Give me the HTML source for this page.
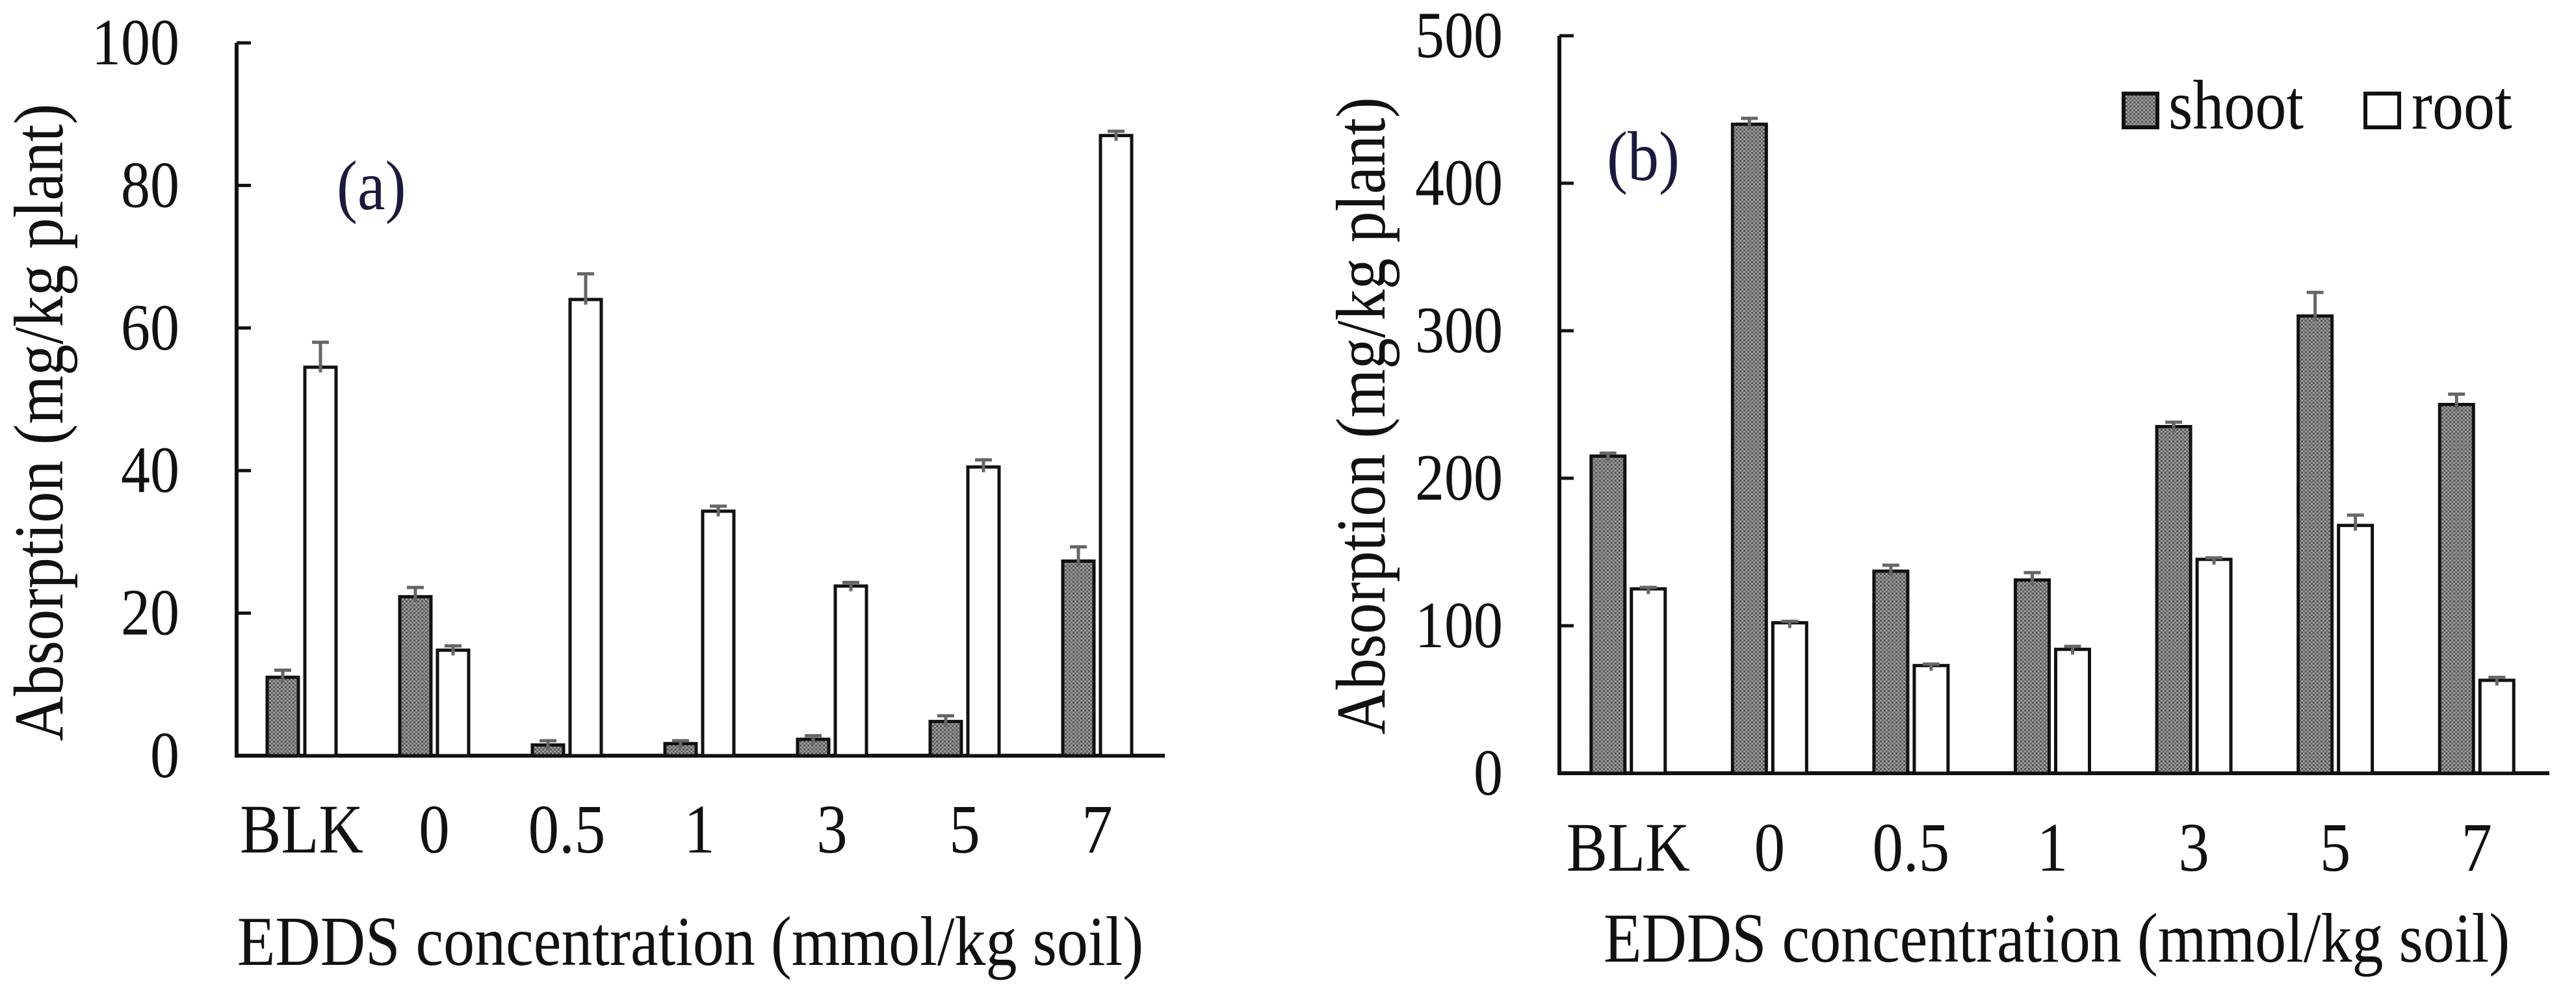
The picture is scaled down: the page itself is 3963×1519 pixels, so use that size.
<!DOCTYPE html>
<html><head><meta charset="utf-8"><style>html,body{margin:0;padding:0;background:#fff}svg{display:block}svg text{font-family:"Liberation Serif","Times New Roman","DejaVu Serif",serif;fill:#111}</style></head>
<body>
<svg id="s" width="3963" height="1519" viewBox="0 0 3963 1519" xmlns="http://www.w3.org/2000/svg" font-family="Liberation Serif, serif">
<defs><pattern id="dots" width="6" height="6" patternUnits="userSpaceOnUse"><rect width="6" height="6" fill="#9a9a9a"/><rect width="3" height="3" fill="#555"/><rect x="3" y="3" width="3" height="3" fill="#666"/></pattern></defs>
</svg>
<script>
const categories = ["BLK","0","0.5","1","3","5","7"];
const aShoot = [11,22.3,1.5,1.7,2.3,4.8,27.3];
const aShootErr = [1,1.3,0.6,0.4,0.5,0.8,2];
const aRoot = [54.5,14.8,64,34.3,23.8,40.5,87];
const aRootErr = [3.5,0.6,3.6,0.7,0.5,1,0.6];
const bShoot = [215,440,137,131,235,310,250];
const bShootErr = [2,4,4,5,3,16,7];
const bRoot = [125,102,73,84,145,168,63];
const bRootErr = [1,1,1,2,1,7,2];
const aTicks = [0,20,40,60,80,100];
const bTicks = [0,100,200,300,400,500];

const NS="http://www.w3.org/2000/svg", svg=document.getElementById('s');
const SY=1.13;
function el(t,a,txt){const e=document.createElementNS(NS,t);for(const k in a)e.setAttribute(k,a[k]);if(txt!=null)e.textContent=txt;svg.appendChild(e);return e;}
function txt(x,y,s,anchor,size,extra){return el('text',Object.assign({x:0,y:0,'font-size':size||94,'font-family':'Liberation Serif, serif','text-anchor':anchor||'start',transform:`translate(${x},${y}) scale(1,${SY})`},extra||{}),s);}

function chart(p){
  const y=v=>p.y0-(v/p.max)*(p.y0-p.yTop);
  const slot=(p.xEnd-p.x0)/categories.length;
  let ax=el('line',{x1:p.x0,y1:p.yTop,x2:p.x0,y2:p.y0,stroke:'#111','stroke-width':6});
  
  
  let bx=el('line',{x1:p.x0-3,y1:p.y0,x2:p.xEnd,y2:p.y0,stroke:'#111','stroke-width':6});
  
  
  p.ticks.forEach(t=>{
    let tl=el('line',{x1:p.x0,y1:y(t),x2:p.x0+22,y2:y(t),stroke:'#111','stroke-width':5});
    
    
    let tx=txt(p.tickRight,y(t)+33,t,'end',90);
    
    
  });
  categories.forEach((c,i)=>{
    const cx=p.x0+slot*(i+0.5)+p.off;
    const series=[[p.shoot[i],p.shootErr[i],'url(#dots)',cx-p.bw-p.gap/2,'shoot'],[p.root[i],p.rootErr[i],'#fff',cx+p.gap/2,'root']];
    series.forEach(s=>{
      let r=el('rect',{x:s[3],y:y(s[0]),width:p.bw,height:p.y0-y(s[0]),fill:s[2],stroke:'#111','stroke-width':5});
      
      
      const mx=s[3]+p.bw/2, ye=y(s[0]+s[1]);
      let e=el('path',{d:`M${mx},${y(s[0])+8}V${ye}M${mx-13},${ye}H${mx+13}`,stroke:'#666','stroke-width':5,fill:'none'});
      
      
    });
    let lt=txt(cx,p.labelY,c,'middle',95);
    
    
  });
  let xt=txt(p.xtX,p.xtY,'EDDS concentration (mmol/kg soil)','middle',96);
  
  
  let yt=el('text',{x:0,y:0,'font-size':96,'font-family':'Liberation Serif, serif','text-anchor':'middle',transform:`translate(${p.ytX},${p.ytY}) rotate(-90) scale(1,${SY})`},'Absorption (mg/kg plant)');
  
  
  let pl=txt(p.plX,p.plY,p.panel,'start',96,{style:'fill:#1a1a40'});
  
  
}
chart({id:'chart-a',x0:364,xEnd:1792,y0:1163,yTop:66,max:100,ticks:aTicks,tickRight:276,shoot:aShoot,shootErr:aShootErr,root:aRoot,rootErr:aRootErr,bw:48,gap:10,off:-2,labelY:1312,xtX:1062,xtY:1485,ytX:96,ytY:650,plX:518,plY:322,panel:'(a)'});
chart({id:'chart-b',x0:2399,xEnd:3922,y0:1190,yTop:55,max:500,ticks:bTicks,tickRight:2312,shoot:bShoot,shootErr:bShootErr,root:bRoot,rootErr:bRootErr,bw:52,gap:10,off:-3,labelY:1340,xtX:3164,xtY:1480,ytX:2130,ytY:640,plX:2472,plY:277,panel:'(b)'});

let lb1=el('rect',{x:3267,y:144,width:52,height:52,fill:'url(#dots)',stroke:'#111','stroke-width':6});


let lt1=txt(3336,198,'shoot','start',96);


let lb2=el('rect',{x:3639,y:144,width:52,height:52,fill:'#fff',stroke:'#111','stroke-width':6});


let lt2=txt(3710,198,'root','start',96);


</script>
</body></html>
